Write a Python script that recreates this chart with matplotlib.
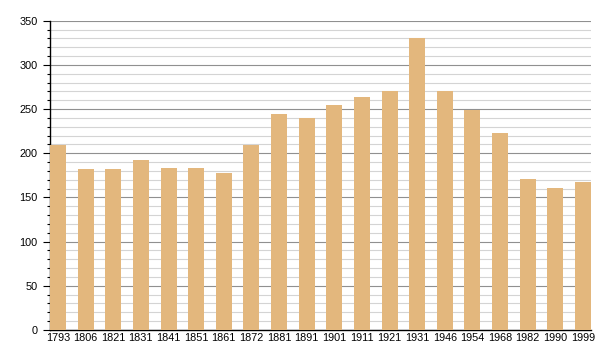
import numpy as np
import matplotlib.pyplot as plt
from matplotlib.ticker import MultipleLocator

plt.rcParams['font.family'] = ['Liberation Sans', 'DejaVu Sans']

# census years and population
years = ['1793', '1806', '1821', '1831', '1841', '1851', '1861', '1872', '1881', '1891',
         '1901', '1911', '1921', '1931', '1946', '1954', '1968', '1982', '1990', '1999']
population = [209, 182, 182, 192, 183, 183, 178, 209, 244, 240,
              255, 264, 271, 330, 271, 249, 223, 171, 161, 168]

BAR_W = 0.58

fig = plt.figure(figsize=(6, 3.6), dpi=100)
ax = fig.add_axes([50/600, 1 - 330/360, 541/600, (330 - 20.7)/360])

x = np.arange(len(years))
ax.bar(x, population, width=BAR_W, color='#E3B77D', zorder=3)

ax.set_xlim(-BAR_W/2, len(years) - 1 + BAR_W/2)
ax.set_ylim(0, 350)
ax.yaxis.set_major_locator(MultipleLocator(50))
ax.yaxis.set_minor_locator(MultipleLocator(10))
ax.grid(axis='y', which='minor', color='#d4d4d4', linewidth=0.8, zorder=0)
ax.grid(axis='y', which='major', color='#909090', linewidth=0.8, zorder=1)

ax.set_xticks(x)
ax.set_xticklabels(years)
ax.tick_params(axis='x', length=0, pad=2, labelsize=7.8)
ax.tick_params(axis='y', which='major', length=5, width=0.8, labelsize=7.8, pad=4)
ax.tick_params(axis='y', which='minor', length=2.5, width=0.8)

for s in ['top', 'right']:
    ax.spines[s].set_visible(False)
ax.spines['left'].set_linewidth(1)
ax.spines['bottom'].set_linewidth(1)

fig.savefig('out.png', dpi=100)
